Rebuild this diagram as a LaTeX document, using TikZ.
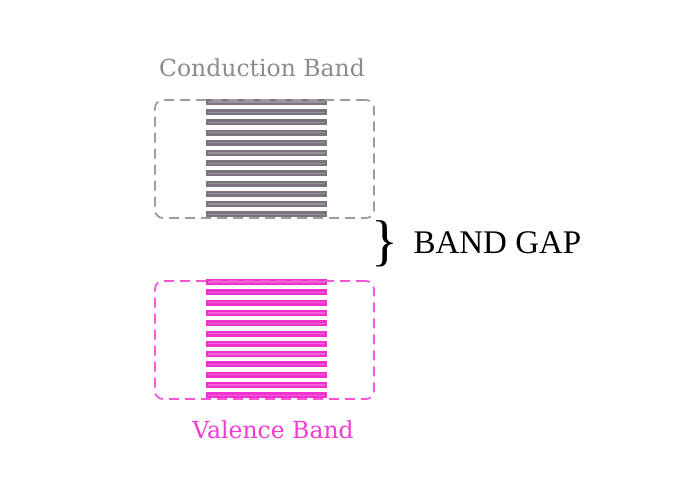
\documentclass[tikz,border=0pt]{standalone}
\usepackage{fontspec}
\setmainfont{Liberation Serif}
\newfontfamily\labelfont{DejaVu Serif}
\usetikzlibrary{positioning}
\definecolor{cbgray}{HTML}{8E898F}
\definecolor{cbdark}{HTML}{7A737E}
\definecolor{cblight}{HTML}{97919A}
\definecolor{vbpink}{HTML}{F03CD2}
\definecolor{vbdark}{HTML}{EE30CC}
\definecolor{vblight}{HTML}{F362D8}
\tikzset{
bandbox/.style={draw, dashed, dash pattern=on 10pt off 6pt, line width=1.8pt, rounded corners=8pt, minimum width=219pt, minimum height=118pt},
bandlabel/.style={font=\labelfont\fontsize{23.5}{27}\selectfont},
}

\begin{document}
\begin{tikzpicture}[x=1pt, y=-1pt]
    \useasboundingbox (0,0) rectangle (677,487);

    %conduction band
    \foreach \y in {0,...,11} {
        \draw[cbdark, line width=6pt] (206,102+10.2*\y)--(327,102+10.2*\y);
        \draw[cblight, line width=1.3pt] (208,102+10.2*\y)--(325,102+10.2*\y);
    }
    \node[bandbox, draw=cbgray!85] (cb) at (264.5,159) {};

    %valence band
    \foreach \y in {0,...,11} {
        \draw[vbdark, line width=6pt] (206,282+10.3*\y)--(327,282+10.3*\y);
        \draw[vblight, line width=1.3pt] (208,282+10.3*\y)--(325,282+10.3*\y);
    }
    \node[bandbox, draw=vbpink!85] (vb) at (264.5,340) {};

    %lables
    \node[bandlabel, text=cbgray] (cblabel) at (262,68) {Conduction Band};
    \node[bandlabel, text=vbpink] (vblabel) at (273,430) {Valence Band};
    \node[font=\fontsize{56}{60}\selectfont] (brace) at (385,244) {\}};
    \node[font=\fontsize{33}{36}\selectfont, anchor=west] (gap) at (410,243) {BAND GAP};
\end{tikzpicture}
\end{document}
